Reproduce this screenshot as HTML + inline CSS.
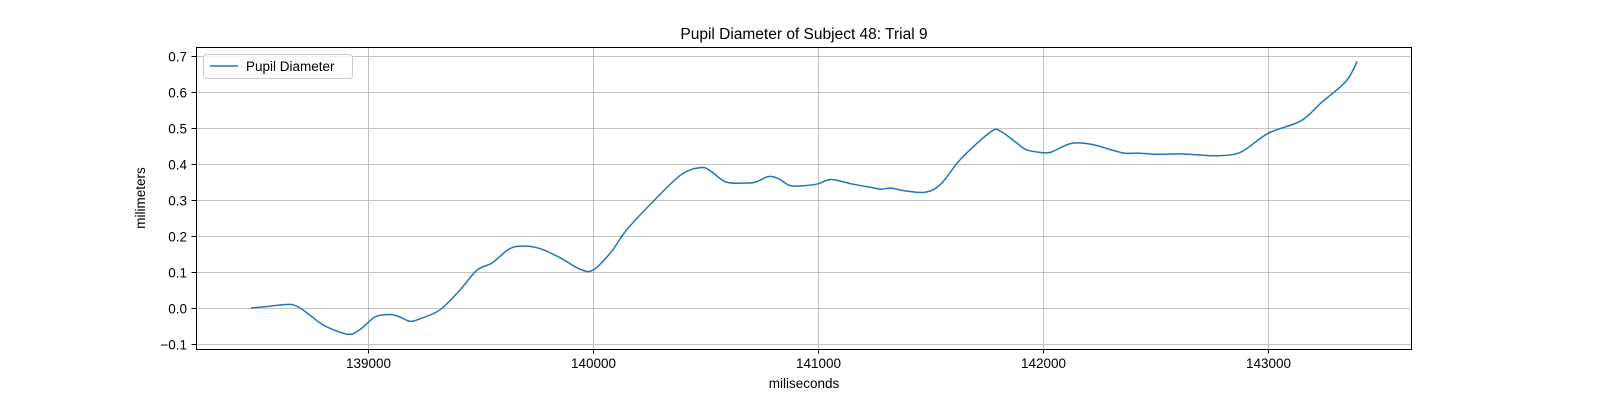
<!DOCTYPE html>
<html><head><meta charset="utf-8"><style>
html,body{margin:0;padding:0;background:#fff;}
svg{display:block;font-family:"Liberation Sans","DejaVu Sans",sans-serif;}
</style></head><body>
<svg id="chart" width="1600" height="400" xmlns="http://www.w3.org/2000/svg">
<rect width="1600" height="400" fill="#fff"/>
<g id="grid"></g>
<g id="series"></g>
<rect x="196.5" y="47.5" width="1215" height="302" fill="none" stroke="#000" stroke-width="1"/>
<g id="xticks"></g>
<g id="yticks"></g>
<text x="804" y="39" font-size="15.5" text-anchor="middle">Pupil Diameter of Subject 48: Trial 9</text>
<text x="804" y="388" font-size="13.5" text-anchor="middle">miliseconds</text>
<text transform="translate(145,198) rotate(-90)" font-size="13.5" text-anchor="middle">milimeters</text>
<g>
<rect x="203.5" y="54.5" width="149" height="24" rx="3" fill="#fff" fill-opacity="0.8" stroke="#ccc"/>
<line x1="210" y1="66" x2="238" y2="66" stroke="#1f77b4" stroke-width="1.5"/>
<text x="246" y="71" font-size="13.5">Pupil Diameter</text>
</g>
</svg>
<script>
const times=[138480,138564,138653,138698,138742,138809,138911,138964,139031,139098,139142,139187,139231,139320,139409,139484,139551,139631,139698,139764,139853,139942,140000,140080,140147,140258,140391,140480,140524,140591,140680,140724,140778,140822,140876,140942,141000,141058,141147,141236,141280,141324,141391,141480,141547,141636,141769,141813,141880,141924,141991,142036,142124,142213,142300,142364,142431,142498,142609,142698,142764,142876,143000,143147,143236,143347,143396];
const diameters=[0.0,0.005,0.01,0.0,-0.02,-0.05,-0.073,-0.06,-0.025,-0.018,-0.025,-0.037,-0.03,-0.005,0.05,0.105,0.125,0.165,0.172,0.165,0.14,0.108,0.105,0.155,0.215,0.29,0.37,0.39,0.38,0.35,0.347,0.35,0.365,0.36,0.34,0.34,0.345,0.357,0.345,0.335,0.33,0.333,0.325,0.322,0.345,0.415,0.49,0.49,0.46,0.44,0.432,0.433,0.457,0.455,0.44,0.43,0.43,0.427,0.428,0.425,0.423,0.432,0.485,0.52,0.57,0.63,0.685];
const xTicks=[139000,140000,141000,142000,143000];
const yTicks=[-0.1,0.0,0.1,0.2,0.3,0.4,0.5,0.6,0.7];
const NS="http://www.w3.org/2000/svg";
function xs(v){return 368+(v-139000)*0.225;}
function ys(v){return 308-v*360;}
function mk(tag,attrs,parent){const e=document.createElementNS(NS,tag);for(const k in attrs)e.setAttribute(k,attrs[k]);parent.appendChild(e);return e;}
const grid=document.getElementById('grid'),xg=document.getElementById('xticks'),yg=document.getElementById('yticks');
xTicks.forEach(t=>{const x=Math.round(xs(t))+0.5;
const gl=mk('line',{x1:x,x2:x,y1:47,y2:349,stroke:'#b0b0b0','stroke-width':0.8},grid);


const tk=mk('line',{x1:x,x2:x,y1:349,y2:353.5,stroke:'#000'},xg);


const tx=mk('text',{x:x,y:368,'font-size':13.5,'text-anchor':'middle'},xg);tx.textContent=t;

});
yTicks.forEach(t=>{const y=Math.round(ys(t))+0.5;
const gl=mk('line',{x1:196,x2:1411,y1:y,y2:y,stroke:'#b0b0b0','stroke-width':0.8},grid);


const tk=mk('line',{x1:191.5,x2:196,y1:y,y2:y,stroke:'#000'},yg);


const tx=mk('text',{x:187,y:y+5,'font-size':13.5,'text-anchor':'end'},yg);tx.textContent=(t<0?'\u2212':'')+Math.abs(t).toFixed(1);

});
const P=times.map((t,i)=>[xs(t),ys(diameters[i])]);
let d='M'+P[0][0]+','+P[0][1];
for(let i=0;i<P.length-1;i++){const p0=P[Math.max(0,i-1)],p1=P[i],p2=P[i+1],p3=P[Math.min(P.length-1,i+2)];
const c1=[p1[0]+(p2[0]-p0[0])/6,p1[1]+(p2[1]-p0[1])/6],c2=[p2[0]-(p3[0]-p1[0])/6,p2[1]-(p3[1]-p1[1])/6];
d+=' C'+c1[0]+','+c1[1]+' '+c2[0]+','+c2[1]+' '+p2[0]+','+p2[1];}
const line=mk('path',{d:d,fill:'none',stroke:'#1f77b4','stroke-width':1.5,'stroke-linejoin':'round'},document.getElementById('series'));


</script>
</body></html>
